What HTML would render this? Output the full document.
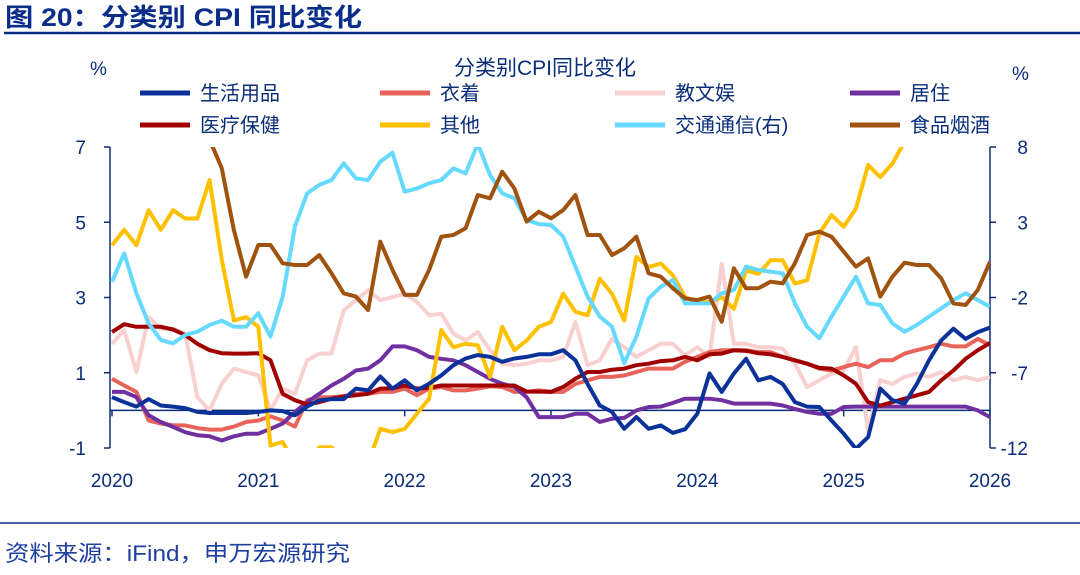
<!DOCTYPE html>
<html><head><meta charset="utf-8"><style>
body{margin:0;background:#fff;width:1080px;height:570px;overflow:hidden;font-family:"Liberation Sans","Noto Sans CJK SC",sans-serif}
</style></head><body>
<svg width="1080" height="570" xmlns="http://www.w3.org/2000/svg">
<text x="5" y="26" font-size="25" font-weight="bold" fill="#0a2d8a" textLength="357" lengthAdjust="spacingAndGlyphs" font-family="Liberation Sans,Noto Sans CJK SC,sans-serif">图 20：分类别 CPI 同比变化</text>
<line x1="4" y1="33" x2="1080" y2="33" stroke="#0a2d8a" stroke-width="2.5"/>
<line x1="0" y1="523" x2="1080" y2="523" stroke="#0a2d8a" stroke-width="1.5"/>
<text x="5" y="561" font-size="22" fill="#1f3f9f" textLength="345" lengthAdjust="spacingAndGlyphs" font-family="Liberation Sans,Noto Sans CJK SC,sans-serif">资料来源：iFind，申万宏源研究</text>
<text x="545" y="75" font-size="21" fill="#0a2d7a" text-anchor="middle" font-family="Liberation Sans,Noto Sans CJK SC,sans-serif">分类别CPI同比变化</text>
<text x="90" y="75" font-size="19" fill="#0a2d7a">%</text>
<text x="1012" y="80" font-size="19" fill="#0a2d7a">%</text>
<g id="legend" font-size="20" fill="#0a2d7a" font-family="Liberation Sans,Noto Sans CJK SC,sans-serif"></g>
<g id="axes"></g>
<defs><clipPath id="pc"><rect x="110" y="147" width="880" height="301"/></clipPath></defs>
<g id="series" clip-path="url(#pc)"></g>
</svg>
<script>
const names=["生活用品","衣着","教文娱","居住","医疗保健","其他","交通通信(右)","食品烟酒"];
const colors=["#0a3299","#e8645a","#f8d0d0","#7030a0","#a00000","#ffc000","#66d9ff","#a0520f"];
const xYears=[2020,2021,2022,2023,2024,2025,2026];
const leftTicks=[-1,1,3,5,7];
const rightTicks=[-12,-7,-2,3,8];
const sHome=[0.35,0.22,0.1,0.3,0.13,0.1,0.06,-0.04,-0.07,-0.07,-0.07,-0.07,-0.04,0,-0.02,-0.13,0.1,0.27,0.3,0.3,0.58,0.53,0.9,0.58,0.8,0.53,0.71,0.93,1.2,1.38,1.47,1.42,1.29,1.38,1.42,1.49,1.49,1.6,1.33,0.7,0.13,-0.04,-0.49,-0.18,-0.49,-0.4,-0.6,-0.5,-0.09,0.98,0.49,0.98,1.37,0.8,0.89,0.7,0.22,0.1,0.09,-0.27,-0.62,-1.02,-0.71,0.58,0.27,0.18,0.7,1.33,1.86,2.17,1.9,2.08,2.2];
const sCloth=[0.84,0.66,0.49,-0.27,-0.35,-0.4,-0.4,-0.47,-0.51,-0.51,-0.43,-0.31,-0.27,-0.16,-0.27,-0.43,0.27,0.35,0.35,0.38,0.44,0.44,0.49,0.49,0.58,0.4,0.58,0.62,0.53,0.53,0.58,0.64,0.62,0.49,0.49,0.53,0.49,0.49,0.7,0.8,0.89,0.89,0.93,1.02,1.11,1.11,1.11,1.29,1.42,1.55,1.6,1.6,1.6,1.55,1.55,1.42,1.33,1.24,1.11,1.06,1.15,1.24,1.15,1.33,1.33,1.51,1.6,1.68,1.77,1.7,1.7,1.9,1.73];
const sEdu=[1.77,2.13,1.02,2.48,2.17,2.17,2.04,0.35,0,0.71,1.11,1.02,0.93,0,0.58,0.44,1.33,1.51,1.51,2.66,2.93,3.19,2.93,3.01,3.1,2.88,2.53,2.57,2.04,1.86,2.08,1.6,1.24,1.2,1.24,1.33,1.33,1.42,2.35,1.2,1.33,1.9,1.68,1.42,1.6,1.77,1.77,1.46,1.68,1.42,3.9,1.77,1.77,1.68,1.68,1.64,1.24,0.62,0.8,0.98,1.06,1.68,-0.53,0.8,0.7,0.89,0.98,0.89,1.02,0.8,0.89,0.8,0.89];
const sHouse=[0.49,0.49,0.35,-0.13,-0.31,-0.44,-0.58,-0.66,-0.69,-0.8,-0.69,-0.62,-0.62,-0.49,-0.35,-0.04,0.22,0.44,0.66,0.84,1.06,1.11,1.33,1.7,1.7,1.6,1.42,1.37,1.33,1.2,1.02,0.84,0.71,0.62,0.35,-0.18,-0.18,-0.18,-0.09,-0.09,-0.31,-0.22,-0.2,0,0.09,0.1,0.2,0.31,0.31,0.31,0.27,0.18,0.18,0.18,0.18,0.13,0.04,-0.04,-0.09,-0.09,0.09,0.1,0.1,0.1,0.1,0.1,0.1,0.1,0.1,0.1,0.1,0,-0.18];
const sMed=[2.08,2.29,2.22,2.22,2.22,2.15,2.0,1.77,1.6,1.52,1.51,1.51,1.52,1.33,0.44,0.27,0.16,0.22,0.31,0.37,0.4,0.44,0.58,0.59,0.66,0.58,0.6,0.66,0.66,0.66,0.66,0.66,0.66,0.66,0.5,0.5,0.49,0.62,0.84,1.02,1.02,1.08,1.11,1.2,1.24,1.31,1.33,1.42,1.33,1.49,1.51,1.6,1.58,1.52,1.49,1.42,1.33,1.24,1.13,1.11,0.93,0.71,0.22,0.13,0.22,0.31,0.4,0.49,0.8,1.06,1.37,1.6,1.79];
const sOther=[4.39,4.8,4.39,5.32,4.8,5.32,5.1,5.1,6.12,4.0,2.39,2.48,2.22,-0.93,-0.84,-1.42,-1.5,-0.98,-0.98,-1.42,-1.5,-1.42,-0.49,-0.58,-0.49,-0.09,0.31,2.13,1.68,1.77,1.73,0.89,2.22,1.6,1.86,2.22,2.35,3.1,2.62,2.53,3.5,3.1,2.39,4.08,3.81,3.9,3.59,3.01,2.88,2.88,3.01,2.7,3.72,3.63,3.99,3.99,3.37,3.46,4.7,5.19,4.88,5.36,6.52,6.2,6.56,7.14,7.8,8.4,8.8,9.1,9.3,9.5,9.6];
const sTrans=[-0.95,0.93,-1.72,-3.72,-4.82,-5.05,-4.49,-4.27,-3.83,-3.54,-3.94,-3.94,-3.05,-4.6,-1.94,2.71,4.92,5.48,5.81,6.91,5.92,5.81,7.03,7.62,5.03,5.25,5.59,5.81,6.58,6.25,8.2,6.14,4.92,4.59,3.15,2.88,2.82,2.04,0.05,-1.94,-3.27,-3.94,-6.37,-4.6,-2.06,-1.28,-0.84,-2.39,-2.39,-2.39,-1.72,-1.5,0.05,-0.17,-0.28,-0.39,-2.39,-3.94,-4.71,-3.27,-1.94,-0.62,-2.39,-2.5,-3.72,-4.27,-3.83,-3.27,-2.72,-2.17,-1.72,-2.17,-2.61];
const sFood=[12,14,15,14,13,12,11,10,8.5,6.58,2.48,-0.62,1.49,1.49,0.27,0.16,0.16,0.82,-0.39,-1.72,-1.94,-2.83,1.71,-0.17,-1.83,-1.83,-0.17,2.04,2.15,2.6,4.81,4.59,6.36,5.25,3.04,3.7,3.26,3.81,4.81,2.15,2.15,0.82,1.27,2.04,-0.39,-0.62,-1.39,-2.06,-2.17,-1.94,-3.61,-0.06,-1.39,-1.39,-0.95,-1.06,0.27,2.15,2.37,2.04,1.05,0.05,0.6,-1.94,-0.62,0.31,0.16,0.16,-0.73,-2.39,-2.5,-1.5,0.38];
const allSeries=[sHome,sCloth,sEdu,sHouse,sMed,sOther,sTrans,sFood];
const rightAxis=[false,false,false,false,false,false,true,true];
const NS="http://www.w3.org/2000/svg";
const X0=112,X1=990,T=147,B=448;
function xm(i){return X0+(X1-X0)*i/72;}
function xy(yr){return X0+(X1-X0)*(yr-2020)/6;}
function yl(v){return B-(v+1)/8*(B-T);}
function yr(v){return B-(v+12)/20*(B-T);}
function mk(tag,at,parent){const e=document.createElementNS(NS,tag);for(const k in at)e.setAttribute(k,at[k]);parent.appendChild(e);return e;}
const ax=document.getElementById('axes');const C="#0a2d7a";
let e;
e=mk('line',{x1:110,y1:T,x2:110,y2:B,stroke:C,'stroke-width':1.5},ax);


e=mk('line',{x1:990,y1:T,x2:990,y2:B,stroke:C,'stroke-width':1.5},ax);


e=mk('line',{x1:110,y1:yl(0),x2:990,y2:yl(0),stroke:C,'stroke-width':1.5},ax);


leftTicks.forEach(v=>{mk('line',{x1:104,y1:yl(v),x2:110,y2:yl(v),stroke:C,'stroke-width':1.5},ax);
 const t=mk('text',{x:86,y:yl(v)+7,'font-size':19,fill:C,'text-anchor':'end'},ax);t.textContent=v;
 
 });
rightTicks.forEach(v=>{mk('line',{x1:990,y1:yr(v),x2:996,y2:yr(v),stroke:C,'stroke-width':1.5},ax);
 const t=mk('text',{x:1028,y:yr(v)+7,'font-size':19,fill:C,'text-anchor':'end'},ax);t.textContent=v;
 
 });
xYears.forEach(y=>{const x=xy(y);mk('line',{x1:x,y1:yl(0),x2:x,y2:yl(0)+6,stroke:C,'stroke-width':1.5},ax);
 const t=mk('text',{x:x,y:487,'font-size':19,fill:C,'text-anchor':'middle'},ax);t.textContent=y;
 
 });
const sg=document.getElementById('series');
const order=[2,1,3,4,5,6,7,0];
order.forEach(k=>{const f=rightAxis[k]?yr:yl;const d=allSeries[k].map((v,i)=>(i?'L':'M')+xm(i).toFixed(1)+','+f(v).toFixed(1)).join('');
 const p=mk('path',{d:d,fill:'none',stroke:colors[k],'stroke-width':4,'stroke-linejoin':'round'},sg);
 
 });
const lg=document.getElementById('legend');
const lx=[140,380,615,850];
names.forEach((n,k)=>{const x=lx[k%4],y=k<4?93:125;
 const g=mk('g',{},lg);
 
 
 mk('line',{x1:x,y1:y,x2:x+50,y2:y,stroke:colors[k],'stroke-width':5},g);
 const t=mk('text',{x:x+60,y:y+7},g);t.textContent=n;});
</script>
</body></html>
